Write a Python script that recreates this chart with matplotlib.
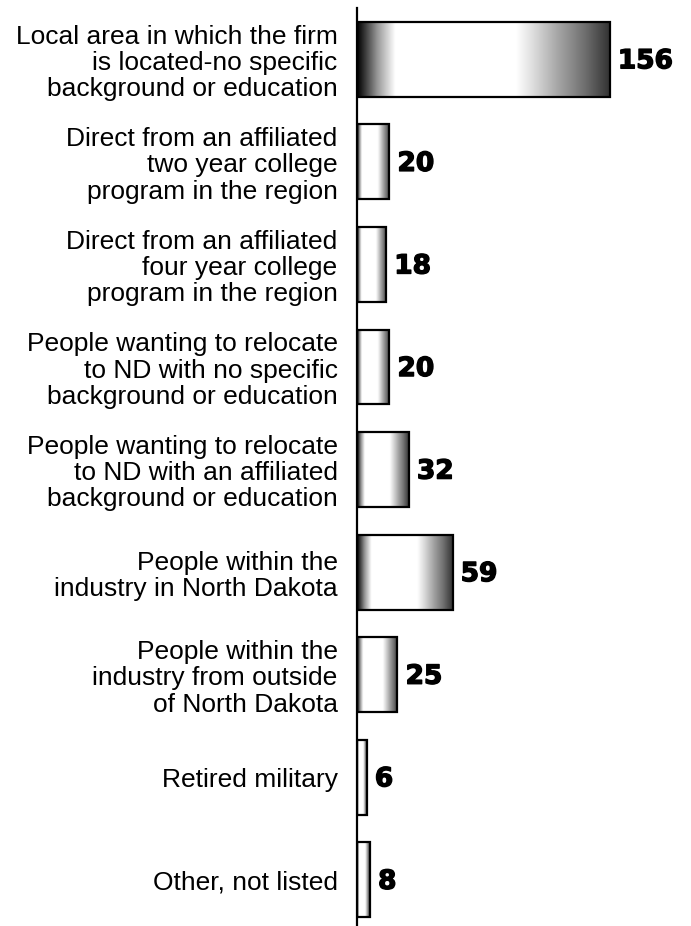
import numpy as np
import matplotlib
matplotlib.use("Agg")
import matplotlib.pyplot as plt
import matplotlib.patheffects as pe
from matplotlib.colors import LinearSegmentedColormap

categories = [
    "Local area in which the firm\nis located-no specific\nbackground or education",
    "Direct from an affiliated\ntwo year college\nprogram in the region",
    "Direct from an affiliated\nfour year college\nprogram in the region",
    "People wanting to relocate\nto ND with no specific\nbackground or education",
    "People wanting to relocate\nto ND with an affiliated\nbackground or education",
    "People within the\nindustry in North Dakota",
    "People within the\nindustry from outside\nof North Dakota",
    "Retired military",
    "Other, not listed",
]
values = [156, 20, 18, 20, 32, 59, 25, 6, 8]

plt.rcParams['font.family'] = ['Liberation Sans', 'DejaVu Sans']

fig = plt.figure(figsize=(6.91, 9.26), dpi=100)
ax = fig.add_axes([357/691, 0.0, 324/691, 1 - 8/926])

n = len(values)
ypos = np.arange(n)
h = 0.73

grad = LinearSegmentedColormap.from_list("g", [
    (0.0, (0.0, 0.0, 0.0)),
    (0.03, (0.22, 0.22, 0.22)),
    (0.08, (0.6, 0.6, 0.6)),
    (0.15, (1, 1, 1)),
    (0.63, (1, 1, 1)),
    (0.70, (0.86, 0.86, 0.86)),
    (0.80, (0.64, 0.64, 0.64)),
    (0.90, (0.44, 0.44, 0.44)),
    (1.0, (0.2, 0.2, 0.2)),
])
gimg = np.linspace(0, 1, 256).reshape(1, -1)

bars = ax.barh(ypos, values, height=h, facecolor='none', edgecolor='black',
               linewidth=1.6, zorder=3)
for b, v, y in zip(bars, values, ypos):
    ax.imshow(gimg, cmap=grad, aspect='auto',
              extent=(0, v, y + h/2, y - h/2), zorder=2, interpolation='bilinear')
    ax.text(v + 5, y + 0.02, str(v), ha='left', va='center', fontsize=19,
            fontweight='bold', family='DejaVu Sans', zorder=4,
            path_effects=[pe.withStroke(linewidth=1.0, foreground='black')])

ax.set_xlim(0, 200)
ax.set_ylim(n - 0.55, -0.5)
ax.set_yticks(ypos)
ax.set_yticklabels(categories, fontsize=19, linespacing=1.12)
ax.tick_params(axis='y', length=0, pad=14)
ax.set_xticks([])
for s in ['top', 'right', 'bottom']:
    ax.spines[s].set_visible(False)
ax.spines['left'].set_linewidth(1.6)
ax.spines['left'].set_zorder(5)

fig.savefig("out.png", dpi=100)
